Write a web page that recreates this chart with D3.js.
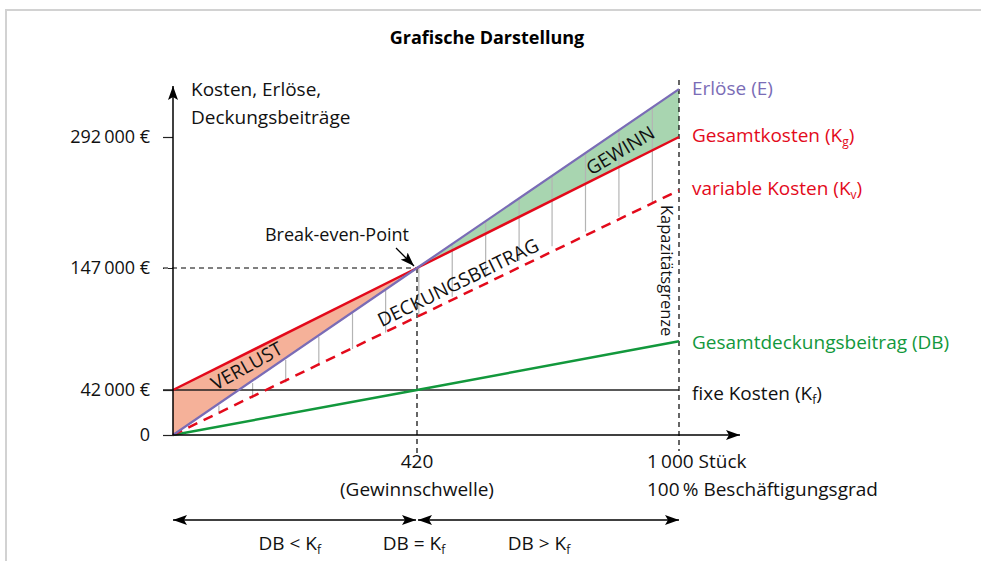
<!DOCTYPE html>
<html>
<head>
<meta charset="utf-8">
<script src="https://cdn.jsdelivr.net/npm/d3@7"></script>
<style>
  body { margin: 0; background: #fff; }
  svg text { font-family: "Open Sans", "Noto Sans", sans-serif; }
</style>
</head>
<body>
<div id="chart"></div>
<script>
// break-even data (Stück / €)
const quantities = [0, 420, 1000];
const erloese = [0, 147000, 345000];
const gesamtkosten = [42000, 147000, 292000];
const variableKosten = [0, 105000, 233000];
const deckungsbeitrag = [0, 42000, 84000];
const fixeKosten = 42000;
const breakEven = { menge: 420, wert: 147000 };
const kapazitaet = 1000;
const yTicks = [0, 42000, 147000, 292000];
const yTickLabels = ["0", "42\u2009000 €", "147\u2009000 €", "292\u2009000 €"];
// grey lines showing the contribution margin (E - Kv)
const hatchQuantities = [79, 137, 194, 251, 309, 366, 424, 498, 572, 646, 719, 793, 867, 941];

const width = 982;
const height = 561;

const red = "#e30a1b";
const purple = "#7a6cb6";
const green = "#12983c";
const fs = 19;

var svg = d3.select("#chart")
  .append("svg")
  .attr("width", width)
  .attr("height", height);

// the drawing is schematic, so the scales are piecewise linear
var x = d3.scaleLinear()
  .domain([0, 420, 1000])
  .range([173, 417, 679]);

var y = d3.scaleLinear()
  .domain([0, 42000, 147000, 292000])
  .range([435, 390, 268, 137]);

function seriesAt(series) {
  return d3.scaleLinear().domain(quantities).range(series);
}

var line = d3.line()
  .x(function (d) { return x(d[0]); })
  .y(function (d) { return y(d[1]); });

function pairs(series) {
  return quantities.map(function (q, i) { return [q, series[i]]; });
}

// frame
svg.append("path")
  .attr("d", "M6,561 V10 H981")
  .attr("fill", "none")
  .attr("stroke", "#d2d2d2")
  .attr("stroke-width", 2);

// arrow heads
var defs = svg.append("defs");
defs.append("marker")
  .attr("id", "arrow")
  .attr("viewBox", "0 0 14 10")
  .attr("refX", 14).attr("refY", 5)
  .attr("markerWidth", 14).attr("markerHeight", 10)
  .attr("markerUnits", "userSpaceOnUse")
  .attr("orient", "auto-start-reverse")
  .append("path")
  .attr("d", "M0,0 L14,5 L0,10 L3,5 Z")
  .attr("fill", "#000");

svg.append("text")
  .attr("x", 487)
  .attr("y", 44)
  .attr("text-anchor", "middle")
  .attr("font-size", 18)
  .attr("font-weight", "bold")
  .text("Grafische Darstellung");

// Verlust and Gewinn areas
var kgAt = seriesAt(gesamtkosten);
var eAt = seriesAt(erloese);
var kvAt = seriesAt(variableKosten);

var verlust = [[0, kgAt(0)], [breakEven.menge, kgAt(breakEven.menge)], [breakEven.menge, eAt(breakEven.menge)], [0, eAt(0)]];
var gewinn = [[breakEven.menge, eAt(breakEven.menge)], [kapazitaet, eAt(kapazitaet)], [kapazitaet, kgAt(kapazitaet)], [breakEven.menge, kgAt(breakEven.menge)]];

svg.append("path")
  .attr("d", line(verlust) + "Z")
  .attr("fill", "#f5b199");
svg.append("path")
  .attr("d", line(gewinn) + "Z")
  .attr("fill", "#a8d5b0");

// contribution margin lines
svg.selectAll(".hatch")
  .data(hatchQuantities)
  .enter()
  .append("line")
  .attr("class", "hatch")
  .attr("x1", function (d) { return x(d); })
  .attr("x2", function (d) { return x(d); })
  .attr("y1", function (d) { return y(kvAt(d)); })
  .attr("y2", function (d) { return y(eAt(d)); })
  .attr("stroke", "#b4b4b4")
  .attr("stroke-width", 1.2);

// guide lines
svg.append("line")
  .attr("x1", 163).attr("x2", x(breakEven.menge))
  .attr("y1", y(breakEven.wert)).attr("y2", y(breakEven.wert))
  .attr("stroke", "#000").attr("stroke-width", 1)
  .attr("stroke-dasharray", "5,4");
svg.append("line")
  .attr("x1", x(breakEven.menge)).attr("x2", x(breakEven.menge))
  .attr("y1", y(breakEven.wert)).attr("y2", y(0) + 18)
  .attr("stroke", "#000").attr("stroke-width", 1.2)
  .attr("stroke-dasharray", "5,4");
svg.append("line")
  .attr("x1", x(kapazitaet)).attr("x2", x(kapazitaet))
  .attr("y1", 80).attr("y2", y(0) + 16)
  .attr("stroke", "#000").attr("stroke-width", 1.2)
  .attr("stroke-dasharray", "5,4");

// fixe Kosten
svg.append("line")
  .attr("x1", 163).attr("x2", x(kapazitaet))
  .attr("y1", y(fixeKosten)).attr("y2", y(fixeKosten))
  .attr("stroke", "#222").attr("stroke-width", 1.3);

// series lines
svg.append("path")
  .attr("d", line(pairs(deckungsbeitrag)))
  .attr("fill", "none").attr("stroke", green).attr("stroke-width", 2.5);
svg.append("path")
  .attr("d", line(pairs(variableKosten)))
  .attr("fill", "none").attr("stroke", red).attr("stroke-width", 2.5)
  .attr("stroke-dasharray", "10,7");
svg.append("path")
  .attr("d", line(pairs(gesamtkosten)))
  .attr("fill", "none").attr("stroke", red).attr("stroke-width", 2.5);
svg.append("path")
  .attr("d", line(pairs(erloese)))
  .attr("fill", "none").attr("stroke", purple).attr("stroke-width", 2.2);

// axes
var yAxis = d3.axisLeft(y)
  .tickValues(yTicks)
  .tickFormat(function (d, i) { return yTickLabels[i]; })
  .tickSize(10)
  .tickPadding(13);

var yAxisG = svg.append("g")
  .attr("transform", "translate(" + x(0) + ",0)")
  .call(yAxis);
yAxisG.select(".domain").remove();
yAxisG.selectAll("text")
  .attr("font-size", 18)
  .attr("fill", "#111")
  .attr("font-family", "Open Sans");
yAxisG.selectAll("line").attr("stroke", "#222").attr("stroke-width", 1.2);
yAxisG.selectAll(".tick")
  .filter(function (d) { return d === breakEven.wert; })
  .select("line")
  .attr("stroke-dasharray", "5,4");

svg.append("line")
  .attr("x1", x(0)).attr("x2", x(0))
  .attr("y1", y(0)).attr("y2", 86)
  .attr("stroke", "#000").attr("stroke-width", 1.5)
  .attr("marker-end", "url(#arrow)");
svg.append("line")
  .attr("x1", x(0)).attr("x2", 740)
  .attr("y1", y(0)).attr("y2", y(0))
  .attr("stroke", "#000").attr("stroke-width", 1.5)
  .attr("marker-end", "url(#arrow)");

// axis titles
var yTitle = svg.append("text")
  .attr("x", 191)
  .attr("font-size", fs)
  .attr("fill", "#111");
yTitle.append("tspan").attr("x", 191).attr("y", 96).text("Kosten, Erlöse,");
yTitle.append("tspan").attr("x", 191).attr("y", 124).text("Deckungsbeiträge");

svg.append("text")
  .attr("x", x(breakEven.menge)).attr("y", 468)
  .attr("text-anchor", "middle").attr("font-size", fs).attr("fill", "#111")
  .text(breakEven.menge);
svg.append("text")
  .attr("x", x(breakEven.menge)).attr("y", 496)
  .attr("text-anchor", "middle").attr("font-size", fs).attr("fill", "#111")
  .text("(Gewinnschwelle)");
svg.append("text")
  .attr("x", x(kapazitaet) - 32).attr("y", 468)
  .attr("font-size", fs).attr("fill", "#111")
  .text("1\u2009000 Stück");
svg.append("text")
  .attr("x", x(kapazitaet) - 32).attr("y", 496)
  .attr("font-size", fs).attr("fill", "#111")
  .text("100\u2009% Beschäftigungsgrad");

// series labels on the right
function labelWithSub(xPos, yPos, main, sub, color) {
  var t = svg.append("text")
    .attr("x", xPos).attr("y", yPos)
    .attr("font-size", fs).attr("fill", color);
  t.append("tspan").text(main);
  if (sub) {
    t.append("tspan").attr("font-size", 12).attr("dy", 4).text(sub);
    t.append("tspan").attr("dy", -4).text(")");
  }
  return t;
}
var labelX = x(kapazitaet) + 13;
labelWithSub(labelX, 95, "Erlöse (E)", null, purple);
labelWithSub(labelX, 142, "Gesamtkosten (K", "g", red);
labelWithSub(labelX, 195, "variable Kosten (K", "v", red);
labelWithSub(labelX, 349, "Gesamtdeckungsbeitrag (DB)", null, green);
labelWithSub(labelX, 400, "fixe Kosten (K", "f", "#111");

// text inside the areas
function rotatedLabel(q, v, angle, txt) {
  svg.append("text")
    .attr("transform", "translate(" + x(q) + "," + y(v) + ") rotate(" + angle + ")")
    .attr("text-anchor", "middle")
    .attr("dy", "0.35em")
    .attr("font-size", fs)
    .attr("fill", "#111")
    .text(txt);
}
rotatedLabel(127, 62700, -29, "VERLUST");
rotatedLabel(511, 134500, -26, "DECKUNGSBEITRAG");
rotatedLabel(870, 277000, -31, "GEWINN");

// Kapazitätsgrenze
svg.append("text")
  .attr("transform", "translate(661," + 205 + ") rotate(90)")
  .attr("font-size", 16.5)
  .attr("fill", "#111")
  .text("Kapazitätsgrenze");

// Break-even-Point annotation
svg.append("text")
  .attr("x", 409).attr("y", 241)
  .attr("text-anchor", "end").attr("font-size", 18).attr("fill", "#111")
  .text("Break-even-Point");
svg.append("line")
  .attr("x1", 396).attr("y1", 248)
  .attr("x2", x(breakEven.menge) - 3).attr("y2", y(breakEven.wert) - 2)
  .attr("stroke", "#000").attr("stroke-width", 1.3)
  .attr("marker-end", "url(#arrow)");

// DB compared with Kf
var rangeY = 520;
svg.append("line")
  .attr("x1", x(0)).attr("x2", x(breakEven.menge) - 1)
  .attr("y1", rangeY).attr("y2", rangeY)
  .attr("stroke", "#000").attr("stroke-width", 1.3)
  .attr("marker-start", "url(#arrow)").attr("marker-end", "url(#arrow)");
svg.append("line")
  .attr("x1", x(breakEven.menge) + 1).attr("x2", x(kapazitaet))
  .attr("y1", rangeY).attr("y2", rangeY)
  .attr("stroke", "#000").attr("stroke-width", 1.3)
  .attr("marker-start", "url(#arrow)").attr("marker-end", "url(#arrow)");

function dbLabel(cx, op) {
  var t = svg.append("text")
    .attr("x", cx).attr("y", 550)
    .attr("text-anchor", "middle").attr("font-size", fs).attr("fill", "#111");
  t.append("tspan").text("DB " + op + " K");
  t.append("tspan").attr("font-size", 12).attr("dy", 4).text("f");
}
dbLabel(x(201), "<");
dbLabel(x(breakEven.menge) - 3, "=");
dbLabel(x(690), ">");
</script>
</body>
</html>
